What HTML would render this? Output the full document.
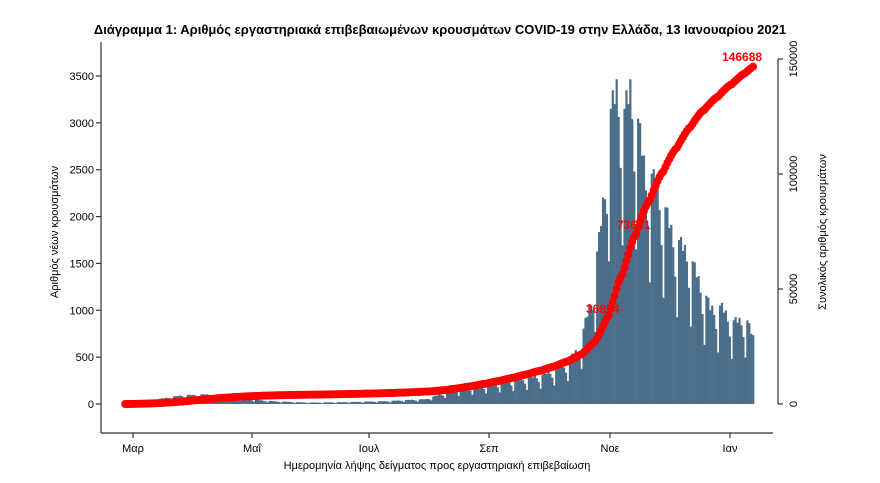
<!DOCTYPE html>
<html><head><meta charset="utf-8"><style>
body{margin:0;background:#fff;}
svg{display:block;font-family:"Liberation Sans",sans-serif;}
</style></head><body>
<svg id="s" width="880" height="483" viewBox="0 0 880 483" xmlns="http://www.w3.org/2000/svg">
<text x="440" y="34" text-anchor="middle" font-size="13" font-weight="bold" fill="#000">Διάγραμμα 1: Αριθμός εργαστηριακά επιβεβαιωμένων κρουσμάτων COVID-19 στην Ελλάδα, 13 Ιανουαρίου 2021</text>
<g id="bars"></g>
<g id="cum"></g>
<g stroke="#333" stroke-width="1.2" fill="none">
<line x1="101" y1="42" x2="101" y2="433"/>
<line x1="101" y1="433" x2="773" y2="433"/>
<line x1="778" y1="404" x2="778" y2="59"/>
</g>
<g id="ticks" stroke="#333" stroke-width="1.2"></g>
<g id="tl" font-size="11" fill="#000"></g>
<text transform="translate(58,232) rotate(-90)" text-anchor="middle" font-size="11">Αριθμός νέων κρουσμάτων</text>
<text transform="translate(826,232) rotate(-90)" text-anchor="middle" font-size="11">Συνολικός αριθμός κρουσμάτων</text>
<text x="437" y="469" text-anchor="middle" font-size="11">Ημερομηνία λήψης δείγματος προς εργαστηριακή επιβεβαίωση</text>
<g id="red" font-weight="bold" fill="#ff0000" font-size="12"></g>
</svg>
<script>
var NS="http://www.w3.org/2000/svg";
function el(p,t,a,txt){var e=document.createElementNS(NS,t);for(var k in a)e.setAttribute(k,a[k]);if(txt!=null)e.textContent=txt;document.getElementById(p).appendChild(e);return e;}
var y0=404,pl=(404-76)/3500,pr=115/50000;
for(var v=0;v<=3500;v+=500){var y=y0-v*pl;el("ticks","line",{x1:96,y1:y,x2:101,y2:y});el("tl","text",{x:94,y:y+4,"text-anchor":"end"},v);}
[0,50000,100000,150000].forEach(function(v){var y=y0-v*pr;el("ticks","line",{x1:778,y1:y,x2:783,y2:y});el("tl","text",{transform:"translate(797,"+y+") rotate(-90)","text-anchor":"middle"},v);});
[["Μαρ",133],["Μαΐ",252],["Ιουλ",369],["Σεπ",489],["Νοε",610],["Ιαν",730]].forEach(function(a){el("ticks","line",{x1:a[1],y1:433,x2:a[1],y2:438});el("tl","text",{x:a[1],y:452,"text-anchor":"middle"},a[0]);});
var kp=[[-4,5],[10,40],[25,90],[40,100],[55,60],[70,30],[90,15],[110,20],[130,30],[150,50],[165,150],[180,200],[195,250],[210,300],[222,420],[229,600],[235,1100],[239,1700],[242,2300],[245,3000],[248,3300],[252,3000],[255,3300],[259,2900],[263,2400],[268,2300],[273,2000],[278,1700],[284,1600],[290,1300],[296,1000],[302,1000],[308,850],[314,900],[318,700]];
function base(d){for(var i=0;i<kp.length-1;i++){if(d>=kp[i][0]&&d<=kp[i+1][0]){var t=(d-kp[i][0])/(kp[i+1][0]-kp[i][0]);return kp[i][1]+t*(kp[i+1][1]-kp[i][1]);}}return 5;}
var wf=[1.05,1.08,1.0,1.05,0.95,0.8,0.55];
var vals=[],sum=0;
for(var d=-4;d<=318;d++){var v=base(d)*wf[(d+700)%7];vals.push(v);sum+=v;}
var sc=146688/sum,c=0;
for(var i=0;i<vals.length;i++){var d=i-4,x=133+d*1.95,h=vals[i]*pl;el("bars","rect",{x:x-1,y:y0-h,width:2.2,height:h,fill:"#4a6e8a"});}
for(var i=0;i<vals.length;i++){var d=i-4,x=133+d*1.95;c+=vals[i]*sc;el("cum","circle",{cx:x,cy:y0-c*pr,r:4,fill:"#ff0000"});}
el("red","text",{x:722,y:61},"146688");
el("red","text",{x:617,y:229},"73601");
el("red","text",{x:586,y:313},"36854");
</script>
</body></html>
